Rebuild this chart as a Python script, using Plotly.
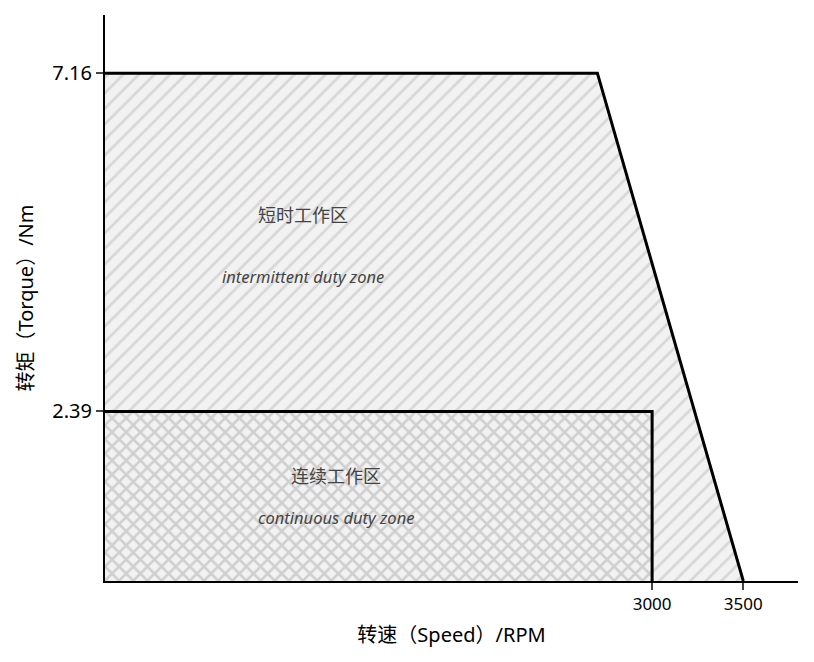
import plotly.graph_objects as go

# Ish zonalari chegaralari
speed_ticks = [3000, 3500]
torque_ticks = [2.39, 7.16]

peak_x = [0, 0, 2700, 3500]
peak_y = [0, 7.16, 7.16, 0]

cont_x = [0, 0, 3000, 3000]
cont_y = [0, 2.39, 2.39, 0]

labels_x = [1083, 1083, 1266, 1266]
labels_y = [5.16, 4.30, 1.48, 0.90]
labels_text = ['短时工作区', '<i>intermittent duty zone</i>',
               '连续工作区', '<i>continuous duty zone</i>']
labels_size = [18, 16.5, 18, 16.5]

fig = go.Figure()

# Short-time zone fill
fig.add_trace(go.Scatter(
    x=peak_x, y=peak_y, mode='none', fill='toself',
    fillcolor='#f2f2f2',
    fillpattern=dict(shape='/', fgcolor='#bcbcbc', bgcolor='#f2f2f2',
                     size=11, solidity=0.25),
    hoverinfo='skip', showlegend=False
))
# Continuous zone fill
fig.add_trace(go.Scatter(
    x=cont_x, y=cont_y, mode='none', fill='toself',
    fillcolor='#f2f2f2',
    fillpattern=dict(shape='x', fgcolor='#acacac', bgcolor='#f2f2f2',
                     size=10, solidity=0.45),
    hoverinfo='skip', showlegend=False
))
# Outlines
fig.add_trace(go.Scatter(
    x=peak_x[1:], y=peak_y[1:], mode='lines',
    line=dict(color='black', width=3), hoverinfo='skip', showlegend=False
))
fig.add_trace(go.Scatter(
    x=cont_x[1:], y=cont_y[1:], mode='lines',
    line=dict(color='black', width=3), hoverinfo='skip', showlegend=False
))

for tx, ty, tt, ts in zip(labels_x, labels_y, labels_text, labels_size):
    fig.add_annotation(x=tx, y=ty, text=tt, showarrow=False,
                       font=dict(size=ts, color='#444444',
                                 family='Noto Sans, Noto Sans CJK SC'))

fig.update_layout(
    width=814, height=662,
    plot_bgcolor='white', paper_bgcolor='white',
    margin=dict(l=97, r=24, t=7, b=89),
    font=dict(family='Noto Sans, Noto Sans CJK SC', color='black'),
    xaxis=dict(
        range=[0, 3800], tickvals=speed_ticks, ticks='outside', ticklen=7,
        tickwidth=2, showgrid=False, zeroline=False, showline=True,
        linecolor='black', linewidth=2, tickfont=dict(size=17),
        title=dict(text='转速（Speed）/RPM', font=dict(size=20), standoff=14)
    ),
    yaxis=dict(
        range=[0, 7.98], tickvals=torque_ticks, ticks='outside', ticklen=7,
        tickwidth=2, showgrid=False, zeroline=False, showline=True,
        linecolor='black', linewidth=2, tickfont=dict(size=20),
        title=dict(text='转矩（Torque）/Nm', font=dict(size=20), standoff=13)
    ),
)

fig.write_html("out.html")
